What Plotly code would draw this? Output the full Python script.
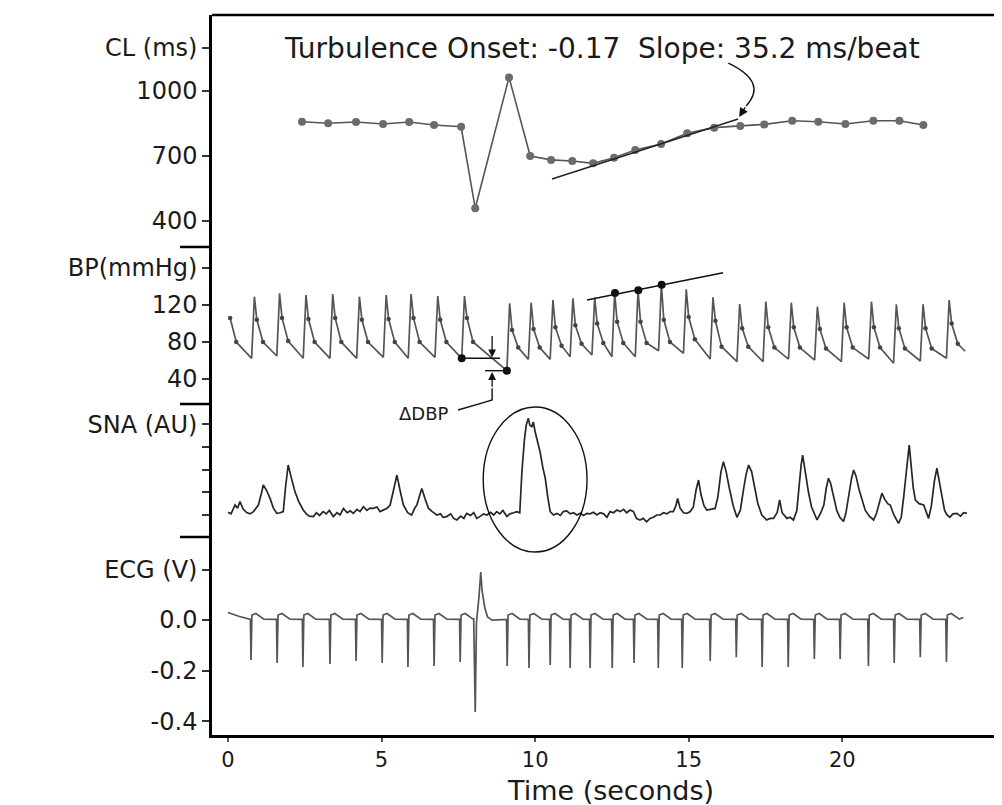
import plotly.graph_objects as go

# ---------------- data ----------------
# Cycle length (CL) per beat
cl_time = [2.41, 3.26, 4.17, 5.05, 5.90, 6.71, 7.59, 8.05, 9.15, 9.84, 10.52, 11.21, 11.89,
           12.57, 13.26, 14.10, 14.95, 15.83, 16.68, 17.46, 18.37, 19.22, 20.10, 21.01, 21.86, 22.64]
cl_ms = [858, 851, 857, 848, 857, 843, 835, 459, 1063, 700, 682, 677, 666,
         692, 728, 755, 805, 831, 839, 846, 863, 858, 848, 863, 863, 843]
cl_slope_t = [10.55, 16.61]
cl_slope_ms = [594, 871]

# Blood pressure, per beat: foot time, diastolic at foot, systolic peak, notch values
bp_foot_t = [-0.10, 0.77, 1.59, 2.45, 3.32, 4.19, 5.06, 5.87, 6.74, 7.61, 9.08, 9.78, 10.49, 11.14,
             11.85, 12.50, 13.26, 14.02, 14.83, 15.70, 16.57, 17.42, 18.25, 19.10, 19.97, 20.86,
             21.67, 22.54, 23.39]
bp_dia = [64, 62.4, 64.9, 62.4, 62.4, 62.4, 63.5, 62.4, 63.5, 62.4, 49, 61.3, 61.3, 64.1,
          66, 64.1, 64.1, 70.6, 67.8, 61.6, 58.7, 58.7, 61.6, 60.5, 58.7, 61.6, 57, 59.5, 62.4]
bp_sys = [132, 129, 132.6, 130.8, 131.9, 129, 130.8, 131.9, 129.7, 129.7, 121.8, 122.5, 125.4, 127.2,
          128, 133, 136, 142, 137, 128.3, 121.1, 123.6, 122.5, 118.2, 122.5, 123.6, 120.8, 120.8, 125.4]
bp_notch1 = [106, 104, 106, 105, 106, 104, 105, 106, 104, 106, 93, 94, 96, 98,
             100, 102, 102, 104, 107, 103, 95, 96, 96, 94, 96, 96, 95, 95, 100]
bp_notch2 = [80, 80, 81, 80, 80, 80, 80, 80, 80, 80, 74, 74, 76, 78,
             79, 79, 79, 80, 83, 75, 75, 74, 74, 73, 74, 74, 73, 73, 78]
bp_end_t = 24.0
bp_end_v = 70
bp_slope_t = [11.69, 16.12]
bp_slope_v = [125.4, 154.9]
bp_big_dot_t = [12.60, 13.36, 14.12, 7.61, 9.08]
bp_big_dot_v = [133, 136, 142, 62.4, 49]
dbp_upper_t = [7.61, 8.86]
dbp_upper_v = [62.4, 62.4]
dbp_lower_t = [8.37, 9.08]
dbp_lower_v = [49, 49]

# Sympathetic nerve activity (SNA) trace
sna_t = [0.00, 0.10, 0.23, 0.31, 0.39, 0.50, 0.61, 0.72, 0.83, 0.99, 1.08, 1.15, 1.25, 1.37, 1.48,
         1.59, 1.70, 1.80, 1.88, 1.96, 2.05, 2.18, 2.30, 2.45, 2.55, 2.65, 2.78, 2.88, 2.98, 3.10,
         3.20, 3.30, 3.43, 3.55, 3.65, 3.76, 3.88, 3.98, 4.08, 4.20, 4.30, 4.41, 4.52, 4.62, 4.73,
         4.85, 4.95, 5.06, 5.18, 5.28, 5.40, 5.50, 5.60, 5.71, 5.85, 5.98, 6.08, 6.15, 6.25, 6.31,
         6.42, 6.53, 6.65, 6.80, 6.92, 7.00, 7.12, 7.25, 7.35, 7.45, 7.58, 7.68, 7.77, 7.90, 8.00,
         8.10, 8.22, 8.32, 8.43, 8.55, 8.65, 8.75, 8.85, 8.95, 9.08, 9.18, 9.30, 9.40, 9.50, 9.57,
         9.65, 9.71, 9.78, 9.83, 9.89, 9.94, 10.00, 10.08, 10.16, 10.25, 10.33, 10.41, 10.49, 10.60,
         10.71, 10.82, 10.92, 11.03, 11.14, 11.25, 11.36, 11.47, 11.58, 11.68, 11.79, 11.90, 12.01,
         12.12, 12.23, 12.34, 12.44, 12.55, 12.66, 12.77, 12.88, 12.98, 13.09, 13.20, 13.30, 13.41,
         13.52, 13.63, 13.74, 13.85, 13.96, 14.07, 14.18, 14.29, 14.40, 14.50, 14.58, 14.64, 14.72,
         14.83, 14.94, 15.05, 15.15, 15.24, 15.32, 15.40, 15.50, 15.59, 15.70, 15.86, 15.95, 16.05,
         16.13, 16.22, 16.32, 16.45, 16.57, 16.68, 16.79, 16.87, 16.95, 17.05, 17.15, 17.25, 17.38,
         17.54, 17.65, 17.76, 17.88, 17.96, 18.04, 18.20, 18.30, 18.41, 18.52, 18.60, 18.66, 18.71,
         18.78, 18.90, 19.00, 19.10, 19.18, 19.30, 19.40, 19.48, 19.55, 19.62, 19.72, 19.82, 19.92,
         20.04, 20.12, 20.20, 20.30, 20.37, 20.45, 20.55, 20.65, 20.75, 20.88, 21.02, 21.12, 21.20,
         21.29, 21.38, 21.48, 21.56, 21.68, 21.83, 21.92, 22.00, 22.08, 22.14, 22.18, 22.24, 22.31,
         22.38, 22.50, 22.65, 22.75, 22.81, 22.90, 23.00, 23.08, 23.15, 23.25, 23.33, 23.41, 23.50,
         23.60, 23.73, 23.85, 23.95, 24.06]
sna_v = [1.12, 1.05, 1.44, 1.30, 1.59, 1.25, 1.11, 1.05, 1.15, 1.44, 1.90, 2.32, 2.10, 1.73, 1.30,
         1.07, 1.10, 1.15, 2.30, 3.20, 2.70, 2.03, 1.60, 1.22, 1.05, 0.95, 0.93, 1.10, 0.98, 1.15,
         1.05, 1.20, 0.93, 1.10, 1.00, 1.29, 1.10, 1.18, 1.07, 1.25, 1.15, 1.37, 1.20, 1.30, 1.29,
         1.35, 1.15, 1.22, 1.30, 1.44, 2.20, 2.76, 2.10, 1.44, 1.10, 1.00, 1.30, 1.44, 1.90, 2.17,
         1.70, 1.29, 1.15, 1.00, 1.05, 0.90, 0.93, 1.05, 0.85, 0.78, 0.95, 0.85, 1.07, 0.98, 1.10,
         0.85, 0.95, 1.05, 1.00, 1.12, 1.00, 1.15, 1.05, 1.20, 0.93, 1.05, 1.10, 1.15, 1.10, 2.91,
         4.30, 4.96, 5.26, 4.95, 4.89, 5.10, 4.67, 4.20, 3.79, 3.10, 2.62, 1.80, 1.15, 1.00,
         1.07, 0.98, 1.15, 1.18, 1.05, 1.10, 1.00, 1.08, 0.98, 1.07, 1.05, 1.12, 1.00,
         1.10, 1.05, 0.90, 1.15, 1.10, 1.22, 1.15, 1.25, 1.10, 1.22, 1.15, 0.85, 0.78,
         0.85, 0.70, 0.85, 0.90, 1.00, 1.00, 1.10, 1.05, 1.15, 1.15, 1.40, 1.73, 1.30,
         1.10, 1.07, 1.15, 1.35, 2.10, 2.54, 1.90, 1.40, 1.22, 1.25, 1.29, 1.80, 2.90,
         3.35, 2.90, 2.20, 1.40, 0.90, 1.20, 2.17, 2.80, 3.20, 2.90, 2.20, 1.50, 1.00,
         0.78, 0.85, 0.85, 1.10, 1.66, 1.10, 0.85, 0.90, 0.78, 1.20, 2.40, 3.20, 3.64,
         3.00, 2.00, 1.35, 1.05, 0.78, 1.10, 1.44, 2.20, 2.62, 2.40, 1.80, 1.20, 0.90,
         0.71, 1.10, 1.80, 2.60, 2.98, 2.70, 2.10, 1.60, 1.20, 0.95, 0.78, 1.10, 1.50,
         1.96, 1.70, 1.50, 1.44, 1.00, 0.63, 0.90, 1.80, 3.00, 3.60, 4.08, 3.20, 2.20,
         1.66, 1.50, 1.44, 1.05, 0.85, 1.40, 2.50, 3.06, 2.60, 1.80, 1.20, 1.00, 0.90,
         1.05, 1.07, 0.95, 1.10, 1.07]
sna_oval_t = [8.31, 11.69]
sna_oval_v = [-0.63, 5.76]

# ECG: spike times and depths, plus the premature beat
ecg_spike_t = [0.75, 1.60, 2.44, 3.32, 4.17, 5.02, 5.86, 6.71, 7.56, 9.09, 9.80, 10.49, 11.14,
               11.79, 12.51, 13.22, 14.01, 14.79, 15.70, 16.55, 17.39, 18.24, 19.09, 19.93, 20.85,
               21.69, 22.54, 23.39]
ecg_spike_v = [-0.158, -0.170, -0.186, -0.174, -0.162, -0.170, -0.186, -0.182, -0.166, -0.182,
               -0.190, -0.178, -0.190, -0.190, -0.190, -0.170, -0.190, -0.190, -0.162, -0.147,
               -0.186, -0.186, -0.154, -0.154, -0.182, -0.170, -0.147, -0.166]
pvc_t = [8.00, 8.05, 8.09, 8.17, 8.23, 8.27, 8.36, 8.45, 8.60]
pvc_v = [0.005, -0.364, -0.01, 0.09, 0.19, 0.12, 0.05, 0.012, 0.0]
ecg_start_t = [0.0, 0.35]
ecg_start_v = [0.03, 0.015]
ecg_end_t = [23.94]
ecg_end_v = [0.01]

# axis ticks
x_ticks = [0, 5, 10, 15, 20]
cl_ticks = [400, 700, 1000, 1200]
cl_ticktext = ['400', '700', '1000', 'CL (ms)']
bp_ticks = [40, 80, 120, 160]
bp_ticktext = ['40', '80', '120', 'BP(mmHg)']
sna_ticks = [1, 2, 3, 4, 5]
sna_ticktext = ['', '', '', '', 'SNA (AU)']
ecg_ticks = [-0.4, -0.2, 0.0, 0.2]
ecg_ticktext = ['-0.4', '-0.2', '0.0', 'ECG (V)']

# ---------------- layout geometry ----------------
X_RANGE = [-0.52, 25.2]
DOM = {'cl': [0.6778, 1.0], 'bp': [0.4597, 0.6778], 'sna': [0.275, 0.4597], 'ecg': [0.0, 0.275]}
RNG = {'cl': [280, 1351], 'bp': [13, 182.7], 'sna': [0.03, 5.89], 'ecg': [-0.455, 0.329]}


def xp(t):
    return (t - X_RANGE[0]) / (X_RANGE[1] - X_RANGE[0])


def yp(v, k):
    d, r = DOM[k], RNG[k]
    return d[0] + (v - r[0]) / (r[1] - r[0]) * (d[1] - d[0])


# ---------------- build waveforms from the read beat values ----------------
bp_pts = []
for i in range(len(bp_foot_t)):
    tf = bp_foot_t[i]
    bp_pts += [(tf, bp_dia[i]), (tf + 0.09, bp_sys[i]), (tf + 0.17, bp_notch1[i]), (tf + 0.37, bp_notch2[i])]
bp_pts.append((bp_end_t, bp_end_v))
bp_pts = [p for p in bp_pts if p[0] >= 0]
bp_x = [p[0] for p in bp_pts]
bp_y = [p[1] for p in bp_pts]
notch_x = [t + 0.17 for t in bp_foot_t if t + 0.17 >= 0] + [t + 0.37 for t in bp_foot_t]
notch_y = [v for t, v in zip(bp_foot_t, bp_notch1) if t + 0.17 >= 0] + list(bp_notch2)

ecg_pts = list(zip(ecg_start_t, ecg_start_v))
for ts, d in zip(ecg_spike_t, ecg_spike_v):
    ecg_pts += [(ts - 0.02, 0.003), (ts, d), (ts + 0.03, 0.02), (ts + 0.16, 0.026), (ts + 0.42, 0.004)]
ecg_pts += list(zip(pvc_t, pvc_v))
ecg_pts += list(zip(ecg_end_t, ecg_end_v))
ecg_pts.sort()
ecg_x = [p[0] for p in ecg_pts]
ecg_y = [p[1] for p in ecg_pts]

TRACE = '#555555'
fig = go.Figure()
fig.add_trace(go.Scatter(x=cl_time, y=cl_ms, mode='lines+markers', xaxis='x', yaxis='y',
                         line=dict(color=TRACE, width=1.6), marker=dict(size=8, color='#6b6b6b')))
fig.add_trace(go.Scatter(x=cl_slope_t, y=cl_slope_ms, mode='lines', xaxis='x', yaxis='y',
                         line=dict(color='#222', width=1.4)))
fig.add_trace(go.Scatter(x=bp_x, y=bp_y, mode='lines', xaxis='x', yaxis='y2',
                         line=dict(color=TRACE, width=1.7)))
fig.add_trace(go.Scatter(x=notch_x, y=notch_y, mode='markers', xaxis='x', yaxis='y2',
                         marker=dict(size=4.5, color='#444')))
fig.add_trace(go.Scatter(x=bp_slope_t, y=bp_slope_v, mode='lines', xaxis='x', yaxis='y2',
                         line=dict(color='#111', width=1.4)))
fig.add_trace(go.Scatter(x=dbp_upper_t, y=dbp_upper_v, mode='lines', xaxis='x', yaxis='y2',
                         line=dict(color='#111', width=1.4)))
fig.add_trace(go.Scatter(x=dbp_lower_t, y=dbp_lower_v, mode='lines', xaxis='x', yaxis='y2',
                         line=dict(color='#111', width=1.4)))
fig.add_trace(go.Scatter(x=bp_big_dot_t, y=bp_big_dot_v, mode='markers', xaxis='x', yaxis='y2',
                         marker=dict(size=8, color='#111')))
fig.add_trace(go.Scatter(x=sna_t, y=sna_v, mode='lines', xaxis='x', yaxis='y3',
                         line=dict(color='#262626', width=1.7)))
fig.add_trace(go.Scatter(x=ecg_x, y=ecg_y, mode='lines', xaxis='x', yaxis='y4',
                         line=dict(color=TRACE, width=1.7)))

FONT = 'DejaVu Sans'
ycommon = dict(showline=True, linecolor='black', linewidth=2.5, ticks='outside', ticklen=7,
               tickwidth=1.5, tickcolor='#333', showgrid=False, zeroline=False, anchor='x',
               tickfont=dict(family=FONT, size=24, color='#1a1a1a'), fixedrange=True)

# the page adds an 8px body margin, so the figure is sized to fit the window
fig.update_layout(
    width=994, height=797, showlegend=False,
    plot_bgcolor='white', paper_bgcolor='white',
    margin=dict(l=204, r=0, t=7, b=70),
    xaxis=dict(domain=[0, 1], range=X_RANGE, anchor='y4', showline=True, linecolor='black',
               linewidth=2.5, ticks='outside', ticklen=4, tickwidth=1.5, tickcolor='#555',
               tickvals=x_ticks, showgrid=False, zeroline=False, ticklabelstandoff=0,
               tickfont=dict(family=FONT, size=21, color='#1a1a1a')),
    yaxis=dict(domain=DOM['cl'], range=RNG['cl'], tickvals=cl_ticks, ticktext=cl_ticktext, **ycommon),
    yaxis2=dict(domain=DOM['bp'], range=RNG['bp'], tickvals=bp_ticks, ticktext=bp_ticktext, **ycommon),
    yaxis3=dict(domain=DOM['sna'], range=RNG['sna'], tickvals=sna_ticks, ticktext=sna_ticktext, **ycommon),
    yaxis4=dict(domain=DOM['ecg'], range=RNG['ecg'], tickvals=ecg_ticks, ticktext=ecg_ticktext, **ycommon),
)

shapes = []
# top frame line
shapes.append(dict(type='line', xref='paper', yref='paper', x0=0, x1=1, y0=1, y1=1,
                   line=dict(color='black', width=2.5)))
# panel separators on the left axis
for b in [DOM['cl'][0], DOM['bp'][0], DOM['sna'][0]]:
    shapes.append(dict(type='line', xref='paper', yref='paper', x0=-32 / 790, x1=0, y0=b, y1=b,
                       line=dict(color='black', width=2.5)))
# oval around the SNA burst
shapes.append(dict(type='circle', xref='paper', yref='paper',
                   x0=xp(sna_oval_t[0]), x1=xp(sna_oval_t[1]),
                   y0=yp(sna_oval_v[0], 'sna'), y1=yp(sna_oval_v[1], 'sna'),
                   line=dict(color='#111', width=1.4)))
# curved pointer from the slope text
slope_curve = [(16.29, 1129), (17.59, 1041), (16.87, 931)]
shapes.append(dict(type='path', xref='x', yref='y',
                   path='M {},{} Q {},{} {},{}'.format(*[c for p in slope_curve for c in p]),
                   line=dict(color='#111', width=1.4)))
# leader from the ΔDBP label
leader = [(7.49, 6.5), (8.37, 15.1), (8.60, 17.3), (8.60, 30)]
shapes.append(dict(type='path', xref='paper', yref='paper',
                   path='M ' + ' L '.join('{},{}'.format(xp(t), yp(v, 'bp')) for t, v in leader),
                   line=dict(color='#111', width=1.4)))
fig.update_layout(shapes=shapes)

annotations = [
    dict(x=12.18, y=1198, xref='x', yref='y', showarrow=False, xanchor='center',
         text='Turbulence Onset: -0.17  Slope: 35.2 ms/beat',
         font=dict(family=FONT, size=28, color='#1a1a1a')),
    dict(x=16.64, y=880, xref='x', yref='y', ax=16.87, ay=931, axref='x', ayref='y',
         text='', showarrow=True, arrowhead=2, arrowsize=1.3, arrowwidth=1.4, arrowcolor='#111'),
    dict(x=8.60, y=63.5, xref='x', yref='y2', ax=8.60, ay=88, axref='x', ayref='y2',
         text='', showarrow=True, arrowhead=2, arrowsize=1.2, arrowwidth=1.3, arrowcolor='#111'),
    dict(x=8.60, y=47.5, xref='x', yref='y2', ax=8.60, ay=30, axref='x', ayref='y2',
         text='', showarrow=True, arrowhead=2, arrowsize=1.2, arrowwidth=1.3, arrowcolor='#111'),
    dict(x=xp(6.38), y=yp(3.2, 'bp'), xref='paper', yref='paper', showarrow=False,
         xanchor='center', yanchor='middle',
         text='ΔDBP', font=dict(family=FONT, size=18, color='#1a1a1a')),
    dict(x=0.505, y=-0.0765, xref='paper', yref='paper', showarrow=False,
         xanchor='center', yanchor='middle', borderpad=0,
         text='Time (seconds)', font=dict(family=FONT, size=27, color='#1a1a1a')),
]
fig.update_layout(annotations=annotations)

fig.write_html('out.html')
